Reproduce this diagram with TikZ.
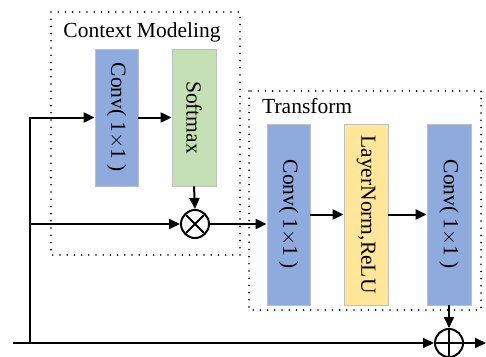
\documentclass[tikz,border=0pt]{standalone}
\usepackage{fontspec}
\setmainfont{Liberation Serif}
\usetikzlibrary{arrows.meta}
\definecolor{convblue}{RGB}{143,170,220}
\definecolor{smgreen}{RGB}{197,224,180}
\definecolor{lnyellow}{RGB}{255,230,153}
\definecolor{boxedge}{RGB}{191,191,191}
\tikzset{
  blk/.style={draw=boxedge, line width=0.8pt, minimum width=#1, inner sep=0pt,
    font=\fontsize{21.5}{25}\selectfont},
  conn/.style={line width=2pt},
  arr/.style={conn, -{Triangle[length=11pt,width=10pt]}},
  group/.style={line width=1.8pt, dash pattern=on 0pt off 7.2pt, line cap=round},
  lbl/.style={font=\fontsize{21.5}{25}\selectfont, inner sep=0pt},
  opcirc/.style={circle, draw, line width=2pt, minimum size=28pt, inner sep=0pt}
}
\begin{document}
\begin{tikzpicture}[x=1pt,y=-1pt]
\useasboundingbox (0,0) rectangle (486,356);

% dotted groups
\draw[group] (51,12) rectangle (240,255);
\draw[group] (249,91) rectangle (481,310);
\node[lbl, anchor=base] (cmtitle) at (142,37) {Context Modeling};
\node[lbl, anchor=base west] (trtitle) at (262,113) {Transform};

% context modeling
\node[blk=43pt, minimum height=137pt, fill=convblue] (c1) at (116.5,117.5)
  {\rotatebox{-90}{Conv( 1$\times$1 )}};
\node[blk=44pt, minimum height=137pt, fill=smgreen] (sm) at (194,117.5)
  {\rotatebox{-90}{Softmax}};
\node[opcirc] (ot) at (195,224) {};
\draw[line width=2pt] ([shift={(-9,-9)}]ot.center) -- ([shift={(9,9)}]ot.center)
  ([shift={(-9,9)}]ot.center) -- ([shift={(9,-9)}]ot.center);

% transform
\node[blk=43pt, minimum height=181pt, fill=convblue] (t1) at (288.5,214.5)
  {\rotatebox{-90}{Conv( 1$\times$1 )}};
\node[blk=44pt, minimum height=181pt, fill=lnyellow] (ln) at (366,214.5)
  {\rotatebox{-90}{LayerNorm,ReLU}};
\node[blk=44pt, minimum height=181pt, fill=convblue] (t2) at (449,214.5)
  {\rotatebox{-90}{Conv( 1$\times$1 )}};

% residual sum
\node[opcirc] (op) at (449,343) {};
\draw[line width=2pt] (op.north) -- (op.south) (op.west) -- (op.east);

% connectors
\coordinate (src) at (13,343);
\coordinate (jb) at (30,343);
\coordinate (jm) at (30,224);
\coordinate (out) at (486,343);
\draw[conn] (src) -- (jb);
\draw[arr] (jb) |- (c1.west);
\draw[arr] (jm) -- (ot.west);
\draw[arr] (c1.east) -- (sm.west);
\draw[arr] (sm.south) -- (ot.north);
\draw[arr] (ot.east) -- (ot.east -| t1.west);
\draw[arr] (t1.east) -- (ln.west);
\draw[arr] (ln.east) -- (t2.west);
\draw[arr] (t2.south) -- (op.north);
\draw[arr] (jb) -- (op.west);
\draw[arr] (op.east) -- (out);
\end{tikzpicture}
\end{document}
